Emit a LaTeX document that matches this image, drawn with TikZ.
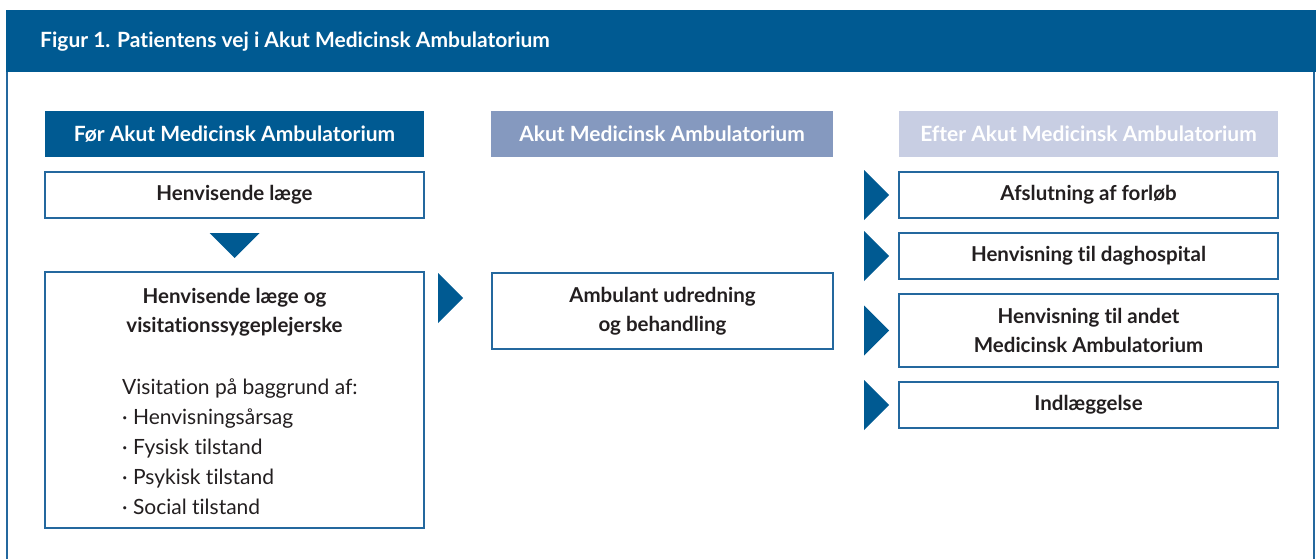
\documentclass[tikz,border=0pt]{standalone}
\usepackage{fontspec}
\setmainfont{Lato}[Ligatures=NoCommon]
\usepackage{xcolor}
\usetikzlibrary{positioning,calc}
\definecolor{amblue}{RGB}{0,90,146}
\definecolor{ammid}{RGB}{133,153,191}
\definecolor{amlight}{RGB}{200,206,227}
\definecolor{amline}{RGB}{36,104,158}
\definecolor{amtext}{RGB}{35,31,32}

\begin{document}
\begin{tikzpicture}[
    x=1pt, y=-1pt,
    inner sep=0,
    head/.style={rectangle, outer sep=0, minimum width=379pt, minimum height=46pt, text=white, font=\fontsize{21}{25}\selectfont\bfseries},
    box/.style={rectangle, outer sep=0, draw=amline, line width=1.3pt, fill=white, minimum width=379pt, minimum height=46pt, text=amtext, align=center, font=\fontsize{20.5}{29}\selectfont\bfseries},
    plain/.style={text=amtext, align=left, font=\fontsize{21}{30}\selectfont},
    pointer/.style={fill=amblue}]
\useasboundingbox (0,0) rectangle (1316,559);

% frame
\fill[amblue] (6,10) rectangle (1316,72);
\draw[amline, line width=2pt] (7,72) -- (7,559) (1314,72) -- (1314,559);
\node[anchor=west, text=white, font=\fontsize{21}{25}\selectfont\bfseries] (title) at (40,42) {Figur 1. Patientens vej i Akut Medicinsk Ambulatorium};

% column heads
\node[head, fill=amblue, anchor=north west] (foer) at (45,111) {Før Akut Medicinsk Ambulatorium};
\node[head, fill=ammid, minimum width=342pt, anchor=north west] (akut) at (491,111) {Akut Medicinsk Ambulatorium};
\node[head, fill=amlight, anchor=north west] (efter) at (899,111) {Efter Akut Medicinsk Ambulatorium};

% before
\node[box, below=15pt of foer] (henv) {Henvisende læge};
\node[box, minimum height=256pt, below=54pt of henv] (visit) {};
\node[box, draw=none, fill=none] (visithead) at ($(visit.north)+(0,40)$) {Henvisende læge og\\visitationssygeplejerske};
\node[plain, anchor=west] (visitlist) at ($(visit.north west)+(77,175)$) {Visitation på baggrund af:\\· Henvisningsårsag\\· Fysisk tilstand\\· Psykisk tilstand\\· Social tilstand};

% during
\node[box, minimum width=341pt, minimum height=76pt, anchor=north west] (amb) at (492,273) {Ambulant udredning\\og behandling};

% after
\node[box, below=15pt of efter] (afsl) {Afslutning af forløb};
\node[box, below=15pt of afsl] (dag) {Henvisning til daghospital};
\node[box, minimum height=73pt, below=15pt of dag] (andet) {Henvisning til andet\\Medicinsk Ambulatorium};
\node[box, below=15pt of andet] (indl) {Indlæggelse};

% pointers
\fill[pointer] ($(henv.south)+(-25,15)$) -- ++(50,0) -- ++(-25,25) -- cycle;
\fill[pointer] ($(amb.north west)+(-54,0)$) -- ++(25,25) -- ++(-25,25) -- cycle;
\fill[pointer] ($(afsl.west)+(-35,-25)$) -- ++(25,25) -- ++(-25,25) -- cycle;
\fill[pointer] ($(dag.west)+(-35,-25)$) -- ++(25,25) -- ++(-25,25) -- cycle;
\fill[pointer] ($(andet.west)+(-35,-25)$) -- ++(25,25) -- ++(-25,25) -- cycle;
\fill[pointer] ($(indl.west)+(-35,-25)$) -- ++(25,25) -- ++(-25,25) -- cycle;

\end{tikzpicture}
\end{document}
